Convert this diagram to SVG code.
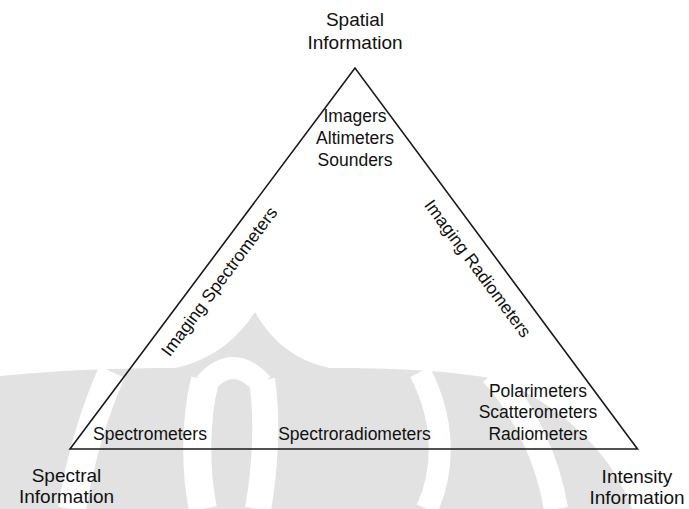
<svg xmlns="http://www.w3.org/2000/svg" width="689" height="509" viewBox="0 0 689 509">
  <style>
    .lbl { font-family: "Liberation Sans", Arial, sans-serif; fill: #111; text-anchor: middle; }
    .corner { font-size: 19px; }
    .item { font-size: 17.5px; }
    .edge { fill: none; stroke: #1a1a1a; stroke-width: 1.6; stroke-linejoin: miter; }
    .wm { fill: #e2e2e2; stroke: none; }
    .wmgap { fill: none; stroke: #ffffff; }
  </style>
  <rect x="0" y="0" width="689" height="509" fill="#ffffff"/>
  <g id="watermark">
    <path class="wm" d="M0,376 C60,370 120,368 175,368 C215,360 240,335 255,312 C268,335 290,360 330,368 C390,368 450,370 500,380 C570,410 615,460 632,509 L0,509 Z"/>
    <path class="wmgap" stroke-width="28" d="M112,372 C95,410 80,460 72,509"/>
    <path class="wmgap" stroke-width="28" d="M205,380 C195,420 195,470 203,509"/>
    <path class="wmgap" stroke-width="26" d="M262,380 C268,420 265,470 258,509"/>
    <path class="wmgap" stroke-width="22" d="M205,384 Q233,352 262,384"/>
    <path class="wmgap" stroke-width="22" d="M420,372 C445,420 445,470 427,509"/>
    <path class="wmgap" stroke-width="24" d="M492,374 C525,410 548,460 556,509"/>
  </g>
  <g id="connectors">
    <polygon class="edge" points="355,68 70,449 637.5,449"/>
  </g>
  <g id="node-spatial">
    <text class="lbl corner" x="355" y="26">Spatial</text>
    <text class="lbl corner" x="355" y="49">Information</text>
  </g>
  <g id="node-spectral">
    <text class="lbl corner" x="66.5" y="482">Spectral</text>
    <text class="lbl corner" x="66.5" y="503">Information</text>
  </g>
  <g id="node-intensity">
    <text class="lbl corner" x="637" y="483">Intensity</text>
    <text class="lbl corner" x="637" y="504">Information</text>
  </g>
  <g id="node-top-instruments">
    <text class="lbl item" x="355" y="122">Imagers</text>
    <text class="lbl item" x="355" y="144">Altimeters</text>
    <text class="lbl item" x="355" y="166">Sounders</text>
  </g>
  <g id="node-right-instruments">
    <text class="lbl item" x="538" y="397">Polarimeters</text>
    <text class="lbl item" x="538" y="418">Scatterometers</text>
    <text class="lbl item" x="538" y="440">Radiometers</text>
  </g>
  <g id="node-spectrometers">
    <text class="lbl item" x="150" y="440">Spectrometers</text>
  </g>
  <g id="node-spectroradiometers">
    <text class="lbl item" x="354.5" y="440">Spectroradiometers</text>
  </g>
  <g id="node-imaging-spectrometers">
    <text class="lbl item" x="224" y="285" transform="rotate(-53.2 224 285)">Imaging Spectrometers</text>
  </g>
  <g id="node-imaging-radiometers">
    <text class="lbl item" x="473" y="272" transform="rotate(53.5 473 272)">Imaging Radiometers</text>
  </g>
</svg>
